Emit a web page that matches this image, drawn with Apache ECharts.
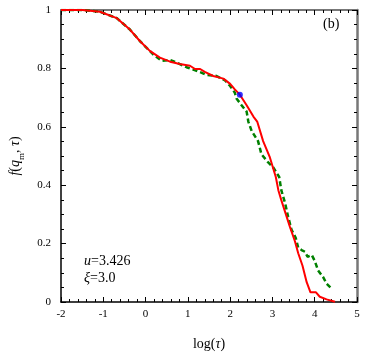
<!DOCTYPE html>
<html>
<head>
<meta charset="utf-8">
<script src="https://cdn.jsdelivr.net/npm/echarts@6/dist/echarts.min.js"></script>
<style>
html, body { margin: 0; padding: 0; background: #fff; }
#main { width: 365px; height: 356px; }
</style>
</head>
<body>
<div id="main"></div>
<script>
// log(tau) vs f(q_m, tau)
var redX = [-2, -1.5, -1.08, -0.68, -0.37, -0.13, 0.10, 0.34, 0.58, 0.81, 1.05, 1.17, 1.29, 1.40, 1.60, 1.84, 2.00, 2.11, 2.23, 2.39, 2.55, 2.64, 2.78, 2.94, 3.08, 3.14, 3.21, 3.41, 3.53, 3.61, 3.71, 3.81, 3.90, 4.03, 4.12, 4.28, 4.48];
var redY = [1, 1, 0.994, 0.972, 0.933, 0.893, 0.860, 0.837, 0.823, 0.815, 0.809, 0.798, 0.798, 0.788, 0.774, 0.765, 0.747, 0.728, 0.710, 0.674, 0.635, 0.618, 0.551, 0.495, 0.428, 0.383, 0.349, 0.259, 0.209, 0.167, 0.125, 0.068, 0.033, 0.033, 0.018, 0.009, 0.001];

var greenX = [-2, -1.5, -1.08, -0.68, -0.37, -0.13, 0.18, 0.38, 0.58, 0.73, 0.97, 1.29, 1.44, 1.68, 1.88, 2.00, 2.11, 2.15, 2.27, 2.39, 2.43, 2.51, 2.66, 2.74, 2.90, 3.02, 3.16, 3.21, 3.30, 3.37, 3.45, 3.55, 3.61, 3.69, 3.77, 3.83, 3.93, 4.00, 4.08, 4.20, 4.28, 4.40];
var greenY = [1, 1, 0.994, 0.972, 0.933, 0.893, 0.848, 0.826, 0.829, 0.820, 0.804, 0.787, 0.778, 0.774, 0.759, 0.740, 0.717, 0.697, 0.674, 0.652, 0.618, 0.585, 0.551, 0.506, 0.478, 0.461, 0.428, 0.383, 0.338, 0.293, 0.248, 0.220, 0.186, 0.178, 0.172, 0.155, 0.161, 0.141, 0.108, 0.085, 0.063, 0.046];

var dotX = [2.23];
var dotY = [0.710];

function pairs(xs, ys) {
    var out = [];
    for (var i = 0; i < xs.length; i++) out.push([xs[i], ys[i]]);
    return out;
}

var serif = 'Liberation Serif';

function buildChart()
{
    var myChart = echarts.init(document.getElementById('main'));

    var option = {
        animation: false,
        backgroundColor: '#fff',
        grid: { left: 61, right: 8, top: 10, bottom: 49 },
        xAxis: [
            {
                type: 'value', min: -2, max: 5, interval: 1,
                axisLine: { show: true, lineStyle: { color: '#000', width: 1.5 } },
                axisTick: { inside: true, length: 5, lineStyle: { color: '#000' } },
                minorTick: { show: true, splitNumber: 5, length: 3, lineStyle: { color: '#000' } },
                splitLine: { show: false },
                axisLabel: { color: '#000', fontFamily: serif, fontSize: 11, margin: 7 },
                name: '{a|log(}{i|τ}{a|)}',
                nameLocation: 'middle',
                nameGap: 35,
                nameTextStyle: {
                    rich: {
                        a: { fontFamily: serif, fontSize: 14, color: '#000' },
                        i: { fontFamily: serif, fontSize: 14, color: '#000', fontStyle: 'italic' }
                    }
                }
            },
            {
                type: 'value', position: 'top', min: -2, max: 5, interval: 1,
                axisLine: { show: true, onZero: false, lineStyle: { color: '#777', width: 2 } },
                axisTick: { inside: true, length: 5, lineStyle: { color: '#000' } },
                minorTick: { show: true, splitNumber: 5, length: 3, lineStyle: { color: '#000' } },
                splitLine: { show: false },
                axisLabel: { show: false }
            }
        ],
        yAxis: [
            {
                type: 'value', min: 0, max: 1, interval: 0.2,
                axisLine: { show: true, onZero: false, lineStyle: { color: '#000', width: 1.5 } },
                axisTick: { inside: true, length: 5, lineStyle: { color: '#000' } },
                minorTick: { show: true, splitNumber: 4, length: 3, lineStyle: { color: '#000' } },
                splitLine: { show: false },
                axisLabel: { color: '#000', fontFamily: serif, fontSize: 11, margin: 10 },
                name: '{i|f}{a|(}{i|q}{s|m}{a|, }{i|τ}{a|)}',
                nameLocation: 'middle',
                nameGap: 38,
                nameRotate: 90,
                nameTextStyle: {
                    rich: {
                        a: { fontFamily: serif, fontSize: 14, color: '#000', verticalAlign: 'bottom', lineHeight: 16 },
                        i: { fontFamily: serif, fontSize: 14, color: '#000', fontStyle: 'italic', verticalAlign: 'bottom', lineHeight: 16 },
                        s: { fontFamily: serif, fontSize: 9, color: '#000', verticalAlign: 'bottom', lineHeight: 10, padding: [0, 0, -4, 0] }
                    }
                }
            },
            {
                type: 'value', position: 'right', min: 0, max: 1, interval: 0.2,
                axisLine: { show: true, onZero: false, lineStyle: { color: '#777', width: 2.5 } },
                axisTick: { inside: true, length: 5, lineStyle: { color: '#000' } },
                minorTick: { show: true, splitNumber: 4, length: 3, lineStyle: { color: '#000' } },
                splitLine: { show: false },
                axisLabel: { show: false }
            }
        ],
        series: [
            {
                type: 'line',
                data: pairs(greenX, greenY),
                showSymbol: false,
                lineStyle: { color: '#008000', width: 2.5, type: [5, 3] },
                z: 2
            },
            {
                type: 'line',
                data: pairs(redX, redY),
                showSymbol: false,
                lineStyle: { color: '#ff0000', width: 2 },
                z: 3
            },
            {
                type: 'scatter',
                data: pairs(dotX, dotY),
                symbolSize: 6,
                itemStyle: { color: '#0000ff' },
                z: 4
            }
        ],
        graphic: [
            {
                type: 'text', left: 323, top: 17,
                style: { text: '(b)', fontFamily: serif, fontSize: 14, fill: '#000' }
            },
            {
                type: 'text', left: 84, top: 254,
                style: {
                    text: '{i|u}=3.426',
                    fontFamily: serif, fontSize: 14, fill: '#000',
                    rich: { i: { fontFamily: serif, fontSize: 14, fontStyle: 'italic' } }
                }
            },
            {
                type: 'text', left: 84, top: 271,
                style: {
                    text: '{i|ξ}=3.0',
                    fontFamily: serif, fontSize: 14, fill: '#000',
                    rich: { i: { fontFamily: serif, fontSize: 14, fontStyle: 'italic' } }
                }
            }
        ]
    };

    myChart.setOption(option);
}

buildChart();
</script>
</body>
</html>
